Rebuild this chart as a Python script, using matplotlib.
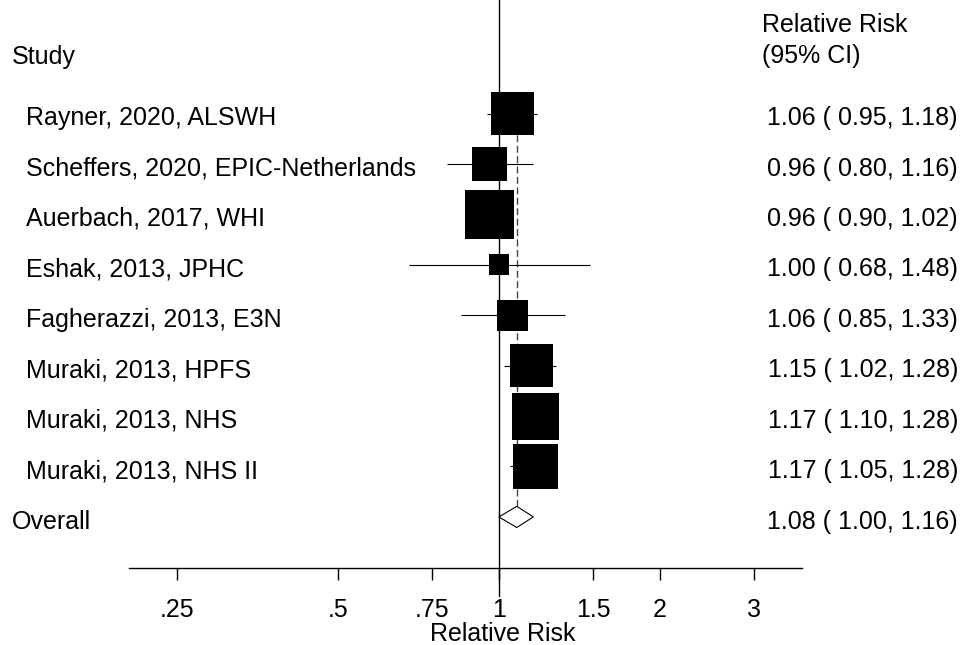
import numpy as np
import matplotlib
matplotlib.use("Agg")
import matplotlib.pyplot as plt
from matplotlib.transforms import blended_transform_factory
from matplotlib.ticker import FixedLocator, NullLocator

plt.rcParams["font.family"] = ["Liberation Sans", "DejaVu Sans"]

studies = ["Rayner, 2020, ALSWH", "Scheffers, 2020, EPIC-Netherlands",
           "Auerbach, 2017, WHI", "Eshak, 2013, JPHC", "Fagherazzi, 2013, E3N",
           "Muraki, 2013, HPFS", "Muraki, 2013, NHS", "Muraki, 2013, NHS II"]
rr = [1.06, 0.96, 0.96, 1.00, 1.06, 1.15, 1.17, 1.17]
lo = [0.95, 0.80, 0.90, 0.68, 0.85, 1.02, 1.10, 1.05]
hi = [1.18, 1.16, 1.02, 1.48, 1.33, 1.28, 1.28, 1.28]
weight = [14.3, 9.2, 18.6, 3.3, 7.5, 14.7, 17.1, 15.4]  # percent

overall_rr, overall_lo, overall_hi = 1.08, 1.00, 1.16

xticks = [0.25, 0.5, 0.75, 1, 1.5, 2, 3]
xticklabels = [".25", ".5", ".75", "1", "1.5", "2", "3"]

FS = 18
W, H = 962, 645
fig = plt.figure(figsize=(W / 100, H / 100), dpi=100)
ax = fig.add_axes([129 / W, 77 / H, 673 / W, 568 / H])
ax.set_xscale("log")
ax.set_xlim(0.2033, 3.689)
ax.set_ylim(10.013, -1.251)

rows = np.arange(1, len(studies) + 1)
overall_row = len(studies) + 1

# confidence intervals and weighted boxes
ax.hlines(rows, lo, hi, color="black", lw=0.8, zorder=2)
ax.scatter(rr, rows, s=[66.9 * w for w in weight], marker="s",
           color="black", linewidths=0, zorder=3)

# null line and pooled estimate line
ax.plot([1, 1], [-1.251, 10.57], color="black", lw=1.0, clip_on=False, zorder=1)
ax.plot([overall_rr, overall_rr], [1, overall_row], color="#444444", lw=1.0,
        dashes=(5, 2.5), zorder=1)

# pooled diamond
dh = 0.21
ax.fill([overall_lo, overall_rr, overall_hi, overall_rr, overall_lo],
        [overall_row, overall_row - dh, overall_row, overall_row + dh, overall_row],
        facecolor="white", edgecolor="black", lw=0.8, zorder=4)

# axis styling
for side in ["top", "left", "right"]:
    ax.spines[side].set_visible(False)
ax.spines["bottom"].set_linewidth(1.0)
ax.yaxis.set_visible(False)
ax.xaxis.set_major_locator(FixedLocator(xticks))
ax.xaxis.set_minor_locator(NullLocator())
ax.set_xticklabels(xticklabels, fontsize=FS)
ax.tick_params(axis="x", length=8.5, width=1.0, pad=13)
ax.set_xlabel("Relative Risk", fontsize=FS)
ax.xaxis.set_label_coords((503 - 129) / 673, -(641 - 568) / 568)
ax.xaxis.label.set_va("baseline")

# text columns
tr = blended_transform_factory(fig.transFigure, ax.transData)
base = 0.23
ax.text(12 / W, 0.02, "Study", transform=tr, fontsize=FS, va="baseline", ha="left")
ax.text(762 / W, -0.616, "Relative Risk", transform=tr, fontsize=FS, va="baseline", ha="left")
ax.text(762 / W, 0.0, "(95% CI)", transform=tr, fontsize=FS, va="baseline", ha="left")

for r, name, e, l, h in zip(rows, studies, rr, lo, hi):
    ax.text(26 / W, r + base, name, transform=tr, fontsize=FS, va="baseline", ha="left")
    ax.text(958 / W, r + base, f"{e:.2f} ( {l:.2f}, {h:.2f})", transform=tr,
            fontsize=FS, va="baseline", ha="right")

ax.text(12 / W, overall_row + base, "Overall", transform=tr, fontsize=FS,
        va="baseline", ha="left")
ax.text(958 / W, overall_row + base,
        f"{overall_rr:.2f} ( {overall_lo:.2f}, {overall_hi:.2f})", transform=tr,
        fontsize=FS, va="baseline", ha="right")

fig.savefig("out.png", dpi=100, facecolor="white")
